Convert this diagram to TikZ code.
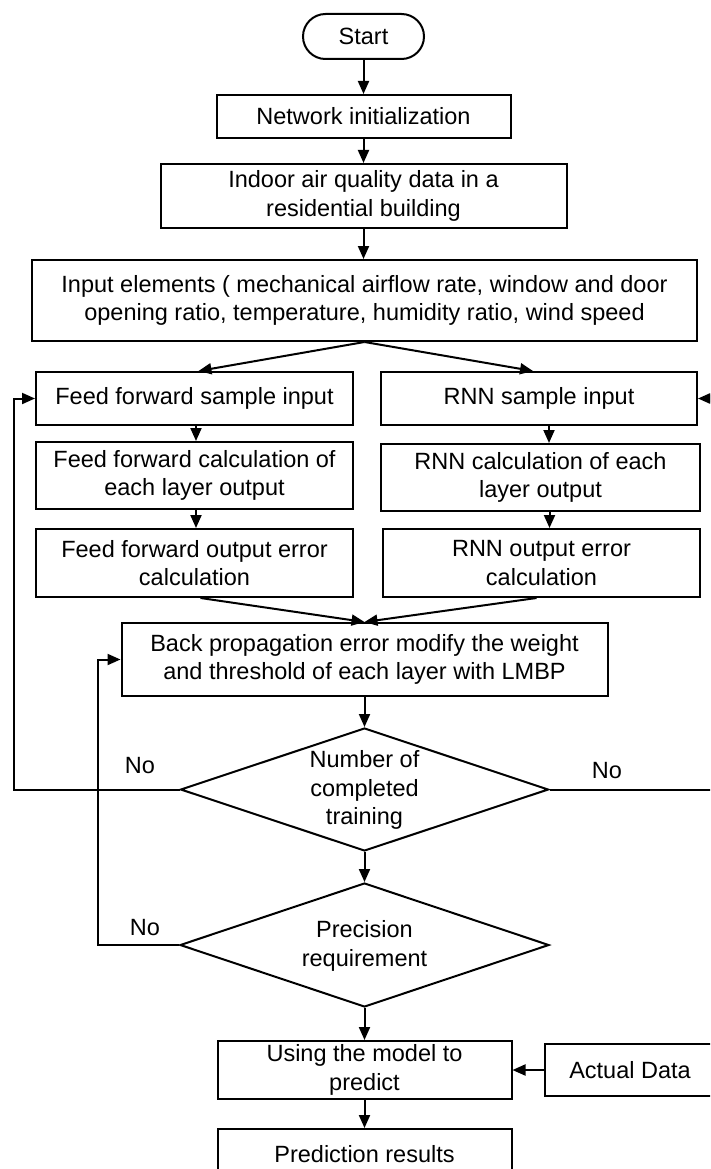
\documentclass[tikz,border=0pt]{standalone}
\usepackage{fontspec}
\setmainfont{Liberation Sans}
\usetikzlibrary{arrows.meta,shapes.geometric,calc}
\newcommand\diafs{\fontsize{23.5}{28.5}\selectfont}
\tikzset{
  box/.style={draw, line width=2pt, inner sep=0pt, align=center, font=\diafs},
  dia/.style={draw, shape=diamond, line width=2pt, inner sep=0pt},
  txt/.style={align=center, font=\diafs, inner sep=0pt},
  arr/.style={-{Triangle[length=13pt,width=11pt]}, line width=2pt},
}
\begin{document}
\begin{tikzpicture}[x=1pt,y=-1pt]
\useasboundingbox (0,0) rectangle (710,1169);
\clip (0,0) rectangle (710,1169);
\fill[white] (0,0) rectangle (710,1169);

\node[box, rounded corners=22.5pt, minimum width=121pt, minimum height=45pt] (start) at (363.5,36.5) {Start};
\node[box, minimum width=294pt, minimum height=43pt] (net) at (363.5,116.5) {Network initialization};
\node[box, minimum width=406pt, minimum height=64pt] (indoor) at (363.5,196) {Indoor air quality data in a\\residential building};
\node[box, minimum width=665pt, minimum height=81pt] (input) at (364.5,300.5) {Input elements ( mechanical airflow rate, window and door\\opening ratio, temperature, humidity ratio, wind speed};
\node[box, minimum width=317pt, minimum height=53pt] (ffs) at (194.5,398.5) {Feed forward sample input};
\node[box, minimum width=316pt, minimum height=53pt] (rnns) at (539,398.5) {RNN sample input};
\node[box, minimum width=317pt, minimum height=67pt] (ffc) at (194.5,475.5) {Feed forward calculation of\\each layer output};
\node[box, minimum width=319pt, minimum height=67pt] (rnnc) at (540.5,477.5) {RNN calculation of each\\layer output};
\node[box, minimum width=317pt, minimum height=68pt] (ffe) at (194.5,563) {Feed forward output error\\calculation};
\node[box, minimum width=317pt, minimum height=68pt] (rnne) at (541.5,563) {RNN output error\\calculation};
\node[box, minimum width=486pt, minimum height=73pt] (bp) at (364.5,659.5) {Back propagation error modify the weight\\and threshold of each layer with LMBP};
\node[dia, minimum width=368pt, minimum height=123pt] (d1) at (364.5,789.5) {};
\node[txt] (d1t) at (364.5,790) {Number of\\completed\\training};
\node[dia, minimum width=369pt, minimum height=124pt] (d2) at (364.5,945) {};
\node[txt] (d2t) at (364.5,946) {Precision\\requirement};
\node[box, minimum width=294pt, minimum height=58pt] (use) at (364.5,1070) {Using the model to\\predict};
\node[box, minimum width=170pt, minimum height=52pt] (actual) at (630,1070) {Actual Data};
\node[box, minimum width=294pt, minimum height=50pt] (pred) at (364.5,1154) {Prediction results};

\node[txt] (no1) at (140,766) {No};
\node[txt] (no2) at (607,771) {No};
\node[txt] (no3) at (145,928) {No};

\coordinate (lx) at (14,0);
\coordinate (rx) at (714,0);
\coordinate (mx) at (98,0);

\draw[arr] (start.south) -- (net.north);
\draw[arr] (net.south) -- (indoor.north);
\draw[arr] (indoor.south) -- (indoor.south |- input.north);
\draw[arr] (input.south) -- ([xshift=4pt]ffs.north);
\draw[arr] (input.south) -- ([xshift=-6pt]rnns.north);
\draw[arr] ([xshift=1.5pt]ffs.south) -- ([xshift=1.5pt]ffc.north);
\draw[arr] ([xshift=1.5pt]ffc.south) -- ([xshift=1.5pt]ffe.north);
\draw[arr] ([xshift=10pt]rnns.south) -- ([xshift=10pt]rnns.south |- rnnc.north);
\draw[arr] ([xshift=9pt]rnnc.south) -- ([xshift=9pt]rnnc.south |- rnne.north);
\draw[arr] ([xshift=6pt]ffe.south) -- (bp.north);
\draw[arr] ([xshift=-5pt]rnne.south) -- (bp.north);
\draw[arr] (bp.south) -- (d1.north);
\draw[arr] (d1.south) -- (d2.north);
\draw[arr] (d2.south) -- (use.north);
\draw[arr] (use.south) -- (pred.north);
\draw[arr] (actual.west) -- (use.east);
\draw[arr] (d1.west) -- (d1.west -| lx) |- (ffs.west);
\draw[arr] (d1.east) -- (d1.east -| rx) |- (rnns.east);
\draw[arr] (d2.west) -- (d2.west -| mx) |- (bp.west);
\end{tikzpicture}
\end{document}
